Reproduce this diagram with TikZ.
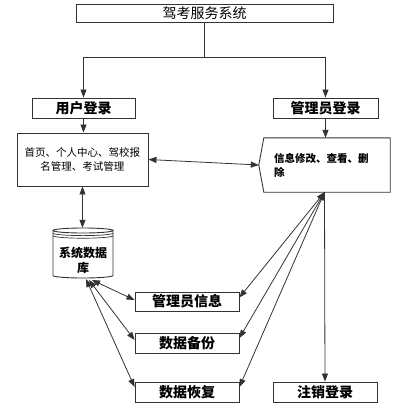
\documentclass[tikz,border=0pt]{standalone}
\usepackage{fontspec}
\setmainfont{Noto Sans CJK SC}
\usetikzlibrary{arrows.meta,calc}
\begin{document}
\begin{tikzpicture}[x=1bp,y=-1bp,
  box/.style={draw=black!80, line width=0.9bp, inner sep=0pt, minimum height=20bp,
    font=\bfseries\fontsize{14bp}{16bp}\selectfont},
  ghost/.style={inner sep=0pt},
  con/.style={draw=black!80, line width=0.8bp},
  tip/.tip={Triangle[length=8bp,width=6bp]},
  arr/.style={con, -tip},
  darr/.style={con, tip-tip},
]
\useasboundingbox (0,0) rectangle (401,407);

% top
\node[box, font=\fontsize{14bp}{16bp}\selectfont, minimum width=257bp, minimum height=18bp] (sys) at (204.5,13) {驾考服务系统};
\node[box, minimum width=103bp] (user) at (83.5,108) {用户登录};
\node[box, minimum width=105bp] (adm) at (325.5,108) {管理员登录};

% user functions
\node[box, minimum width=131bp, minimum height=53bp, align=center,
  font=\fontsize{10.5bp}{14bp}\selectfont] (ufun) at (82.5,159.5) {首页、个人中心、驾校报\\名管理、考试管理};

% admin functions (chevron box)
\node[ghost, minimum width=131bp, minimum height=54bp] (afun) at (324.5,165) {};
\draw[draw=black!80, line width=0.9bp] ($(afun.north west)+(5,0)$) -- (afun.north east) -- (afun.south east)
  -- ($(afun.south west)+(5,0)$) -- (afun.west) -- cycle;
\node[ghost, anchor=west, align=left, font=\bfseries\fontsize{10.5bp}{14bp}\selectfont] (afunt) at (274,165) {信息修改、查看、删\\除};

% database
\node[ghost, minimum width=60bp, minimum height=50bp] (db) at (83,253) {};
\draw[draw=black!80, line width=0.9bp] (53,230.5) -- (53,275.5) arc[start angle=180, end angle=0, x radius=30, y radius=2.5] -- (113,230.5);
\draw[draw=black!80, line width=0.9bp] (83,230.5) ellipse [x radius=30, y radius=2.5];
\draw[draw=black!80, line width=0.7bp] (53,233.1) arc[start angle=180, end angle=0, x radius=30, y radius=2.5];
\draw[draw=black!80, line width=0.7bp] (53,235.7) arc[start angle=180, end angle=0, x radius=30, y radius=2.5];
\node[ghost, align=center, font=\bfseries\fontsize{12bp}{14.5bp}\selectfont] (dbt) at (83,260.5) {系统数据\\库};

% lower boxes
\node[box, minimum width=104bp, minimum height=19bp] (info) at (187,301.5) {管理员信息};
\node[box, minimum width=104bp] (backup) at (187,343) {数据备份};
\node[box, minimum width=104bp] (restore) at (187,392) {数据恢复};
\node[box, minimum width=104bp] (logout) at (325,392) {注销登录};

% connectors top
\coordinate (split) at (204.5,57);
\draw[con] (sys.south) -- (split);
\draw[arr] (split) -| (user.north);
\draw[arr] (split) -| (adm.north);
\draw[arr] (user.south) -- (user.south |- ufun.north);
\draw[arr] (adm.south) -- (adm.south |- afun.north);
\draw[darr] (ufun.east) -- (afun.west);
\draw[darr] (ufun.south) -- (ufun.south |- db.north);

% db to lower boxes
\coordinate (dbA) at (86,279);
\coordinate (dbB) at (89,280);
\coordinate (dbC) at (92,280);
\coordinate (infoL) at ($(info.west)+(0,-1.5)$);
\coordinate (backL) at ($(backup.west)+(0,-3)$);
\coordinate (restL) at ($(restore.west)+(0,-5)$);
\draw[darr] (dbC) -- (infoL);
\draw[darr] (dbB) -- (backL);
\draw[darr] (dbA) -- (restL);

% admin to lower boxes
\coordinate (infoR) at ($(info.east)+(0,-4)$);
\coordinate (backR) at ($(backup.east)+(0,-5)$);
\coordinate (restR) at ($(restore.east)+(0,-5)$);
\draw[darr] (afun.south) -- (infoR);
\draw[darr] (afun.south) -- (backR);
\draw[darr] (afun.south) -- (restR);
\draw[arr] (afun.south) -- (logout.north);
\end{tikzpicture}
\end{document}
